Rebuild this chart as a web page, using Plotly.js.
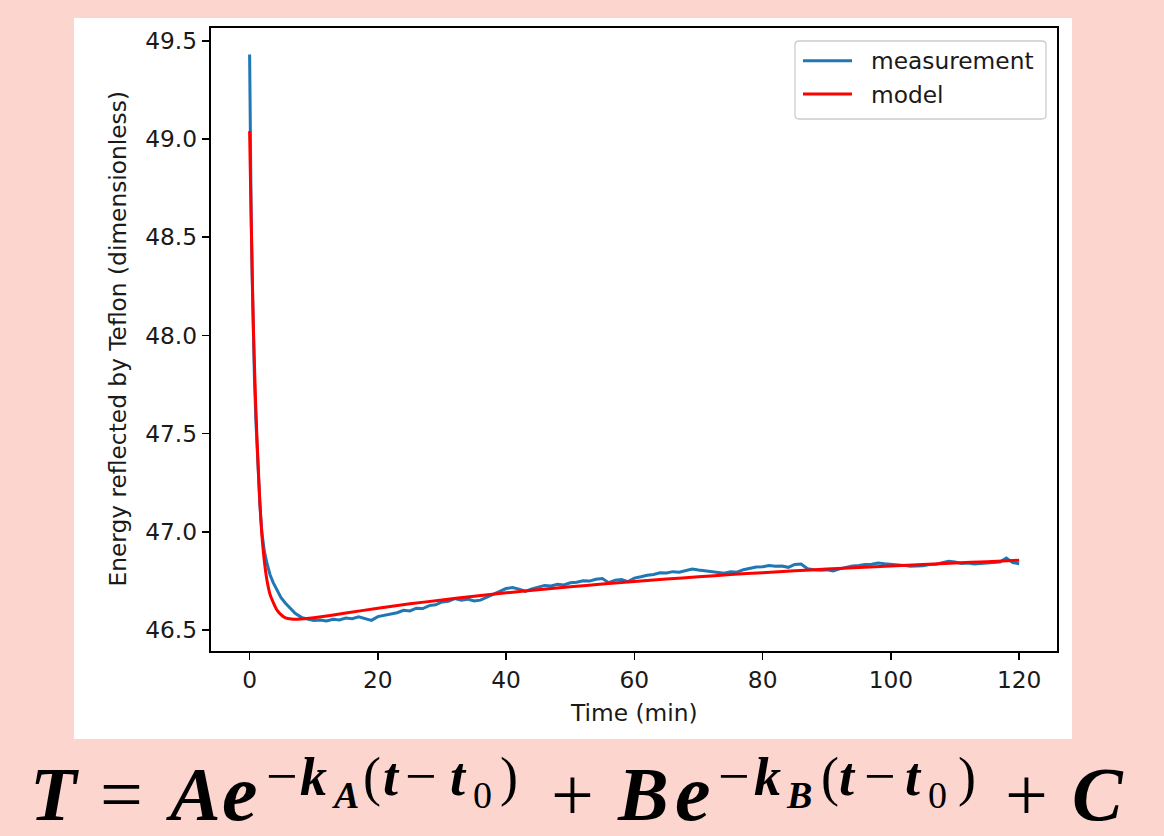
<!DOCTYPE html>
<html>
<head>
<meta charset="utf-8">
<script src="https://cdn.plot.ly/plotly-3.0.1.min.js"></script>
<style>
  html, body { margin: 0; padding: 0; background: #fcd5cf; }
  #wrap { position: relative; width: 1164px; height: 836px; overflow: hidden; }
  #chart { position: absolute; left: 0; top: 0; width: 1164px; height: 836px; }
  #formula { position: absolute; left: 0; top: 0; pointer-events: none; }
</style>
</head>
<body>
<div id="wrap">
  <div id="chart"></div>
  <svg id="formula" width="1164" height="836" xmlns="http://www.w3.org/2000/svg">
    <g font-family="Liberation Serif" font-weight="bold" fill="#000">
      <text x="30" y="820" font-size="76" font-style="italic">T</text>
      <text x="100" y="820" font-size="76" font-weight="normal">=</text>
      <text x="170" y="820" font-size="76" font-style="italic">A</text>
      <text x="222" y="820" font-size="80" font-style="italic">e</text>
      <text x="266" y="795" font-size="56" font-weight="normal">−</text>
      <text x="300" y="795" font-size="54" font-style="italic">k</text>
      <text x="334" y="808" font-size="38" font-style="italic">A</text>
      <text x="363" y="795" font-size="54" font-weight="normal">(</text>
      <text x="383" y="795" font-size="54" font-style="italic">t</text>
      <text x="405" y="795" font-size="56" font-weight="normal">−</text>
      <text x="450" y="795" font-size="54" font-style="italic">t</text>
      <text x="473" y="808" font-size="38" font-weight="normal">0</text>
      <text x="500" y="795" font-size="54" font-weight="normal">)</text>
      <text x="551" y="820" font-size="76" font-weight="normal">+</text>
      <text x="618" y="820" font-size="76" font-style="italic">B</text>
      <text x="675" y="820" font-size="80" font-style="italic">e</text>
      <text x="718" y="795" font-size="56" font-weight="normal">−</text>
      <text x="754" y="795" font-size="54" font-style="italic">k</text>
      <text x="787" y="808" font-size="38" font-style="italic">B</text>
      <text x="821" y="795" font-size="54" font-weight="normal">(</text>
      <text x="839" y="795" font-size="54" font-style="italic">t</text>
      <text x="864" y="795" font-size="56" font-weight="normal">−</text>
      <text x="905" y="795" font-size="54" font-style="italic">t</text>
      <text x="928" y="808" font-size="38" font-weight="normal">0</text>
      <text x="958" y="795" font-size="54" font-weight="normal">)</text>
      <text x="1005" y="820" font-size="76" font-weight="normal">+</text>
      <text x="1072" y="820" font-size="76" font-style="italic">C</text>
    </g>
  </svg>
</div>
<script>
// ---------------- data ----------------
const seriesNames = ["measurement", "model"];

const measT = [0, 0.1, 0.25, 0.4, 0.55, 0.75, 1, 1.3, 1.6, 1.9, 2.3, 2.7, 3.2, 3.7, 4.3, 4.9, 5.6, 6.3, 7.1, 8.2,
  9, 10, 11, 12, 13, 14, 15, 16, 17, 18, 19, 20, 21, 22, 23, 24, 25, 26, 27, 28, 29, 30,
  31, 32, 33, 34, 35, 36, 37, 38, 39, 40, 41, 42, 43, 44, 45, 46, 47, 48, 49, 50,
  51, 52, 53, 54, 55, 56, 57, 58, 59, 60, 61, 62, 63, 64, 65, 66, 67, 68, 69, 70,
  71, 72, 73, 74, 75, 76, 77, 78, 79, 80, 81, 82, 83, 84, 85, 86, 87, 88, 89, 90,
  91, 92, 93, 94, 95, 96, 97, 98, 99, 100, 101, 102, 103, 104, 105, 106, 107, 108, 109, 110,
  111, 112, 113, 114, 115, 116, 117, 118, 119, 120];

const measV = [49.43, 48.95, 48.6, 48.3, 48.03, 47.78, 47.55, 47.33, 47.14, 47.0, 46.9, 46.84, 46.78, 46.74, 46.70, 46.665, 46.636, 46.61, 46.585, 46.562,
  46.555, 46.548, 46.551, 46.546, 46.554, 46.551, 46.561, 46.557, 46.567, 46.559, 46.549, 46.568, 46.575, 46.582, 46.588, 46.600, 46.597, 46.611, 46.609, 46.624, 46.628, 46.643,
  46.646, 46.660, 46.652, 46.657, 46.648, 46.652, 46.668, 46.684, 46.696, 46.711, 46.716, 46.708, 46.697, 46.709, 46.718, 46.727, 46.724, 46.733, 46.729, 46.740,
  46.743, 46.751, 46.749, 46.758, 46.762, 46.741, 46.754, 46.757, 46.746, 46.764, 46.771, 46.779, 46.783, 46.791, 46.790, 46.797, 46.794, 46.803, 46.810, 46.805,
  46.801, 46.795, 46.793, 46.789, 46.796, 46.794, 46.807, 46.814, 46.821, 46.822, 46.828, 46.825, 46.826, 46.819, 46.834, 46.836, 46.812, 46.807, 46.804, 46.806,
  46.801, 46.811, 46.817, 46.826, 46.828, 46.834, 46.835, 46.841, 46.837, 46.835, 46.831, 46.829, 46.824, 46.826, 46.827, 46.833, 46.834, 46.843, 46.850, 46.846,
  46.839, 46.841, 46.836, 46.838, 46.840, 46.841, 46.846, 46.866, 46.843, 46.837];

const modelT = [0, 0.15, 0.3, 0.45, 0.6, 0.8, 1.0, 1.3, 1.6, 1.9, 2.3, 2.7, 3.2, 3.75, 4.3, 5.0, 5.6, 6.5, 7.5, 8.5,
  10, 15, 20, 25, 30, 35, 40, 45, 50, 55, 60, 65, 70, 75, 80, 85, 90, 95, 100, 105, 110, 115, 120];
const modelV = [49.04, 48.76, 48.50, 48.25, 48.03, 47.80, 47.60, 47.36, 47.15, 46.99, 46.85, 46.755, 46.68, 46.636, 46.60, 46.575, 46.562, 46.556, 46.555, 46.557,
  46.562, 46.586, 46.611, 46.633, 46.653, 46.672, 46.689, 46.705, 46.720, 46.734, 46.747, 46.759, 46.771, 46.782, 46.792, 46.801, 46.810, 46.818, 46.826, 46.834, 46.841, 46.848, 46.855];

const xTickVals = [0, 20, 40, 60, 80, 100, 120];
const yTickVals = [46.5, 47.0, 47.5, 48.0, 48.5, 49.0, 49.5];
const yTickText = ["46.5", "47.0", "47.5", "48.0", "48.5", "49.0", "49.5"];
const xTitle = "Time (min)";
const yTitle = "Energy reflected by Teflon (dimensionless)";

// ---------------- layout helpers (pixel -> paper) ----------------
const L = 211, R = 1057, T = 28, B = 651;
const px = x => (x - L) / (R - L);
const py = y => (B - y) / (B - T);

function roundRect(x0, y0, x1, y1, r) {
  return "M" + px(x0 + r) + "," + py(y0) +
    " L" + px(x1 - r) + "," + py(y0) +
    " Q" + px(x1) + "," + py(y0) + " " + px(x1) + "," + py(y0 + r) +
    " L" + px(x1) + "," + py(y1 - r) +
    " Q" + px(x1) + "," + py(y1) + " " + px(x1 - r) + "," + py(y1) +
    " L" + px(x0 + r) + "," + py(y1) +
    " Q" + px(x0) + "," + py(y1) + " " + px(x0) + "," + py(y1 - r) +
    " L" + px(x0) + "," + py(y0 + r) +
    " Q" + px(x0) + "," + py(y0) + " " + px(x0 + r) + "," + py(y0) + " Z";
}

const blue = "#1f77b4", red = "#ff0000";
const font = { family: "DejaVu Sans", size: 23.3, color: "#1a1a1a" };

const traces = [
  { x: measT, y: measV, type: "scatter", mode: "lines", name: seriesNames[0],
    line: { color: blue, width: 3 }, showlegend: false },
  { x: modelT, y: modelV, type: "scatter", mode: "lines", name: seriesNames[1],
    line: { color: red, width: 3, shape: "spline", smoothing: 0.6 }, showlegend: false }
];

const axisCommon = {
  showline: true, mirror: true, linecolor: "#000", linewidth: 1.7,
  ticks: "outside", ticklen: 7.6, tickwidth: 1.7, tickcolor: "#000",
  showgrid: false, zeroline: false, tickfont: font
};

const layout = {
  width: 1164, height: 836,
  paper_bgcolor: "#fcd5cf", plot_bgcolor: "#ffffff",
  margin: { l: L, r: 1164 - R, t: T, b: 836 - B, pad: 0 },
  font: font,
  xaxis: Object.assign({}, axisCommon, { range: [-6.02, 125.9], tickvals: xTickVals, ticktext: xTickVals.map(String) }),
  yaxis: Object.assign({}, axisCommon, { range: [46.393, 49.565], tickvals: yTickVals, ticktext: yTickText }),
  shapes: [
    { type: "rect", xref: "paper", yref: "paper", x0: px(74), x1: px(1072), y0: py(739), y1: py(18),
      fillcolor: "#ffffff", line: { width: 0 }, layer: "below" },
    { type: "path", xref: "paper", yref: "paper", path: roundRect(795, 41, 1046, 119, 4),
      fillcolor: "rgba(255,255,255,0.8)", line: { color: "#cccccc", width: 1.3 }, layer: "above" },
    { type: "line", xref: "paper", yref: "paper", x0: px(803), x1: px(852), y0: py(60.7), y1: py(60.7),
      line: { color: blue, width: 3 } },
    { type: "line", xref: "paper", yref: "paper", x0: px(803), x1: px(852), y0: py(94), y1: py(94),
      line: { color: red, width: 3 } }
  ],
  annotations: [
    { text: seriesNames[0], xref: "paper", yref: "paper", x: px(869), y: py(60.7), xanchor: "left", yanchor: "middle", showarrow: false, font: font },
    { text: seriesNames[1], xref: "paper", yref: "paper", x: px(869), y: py(94), xanchor: "left", yanchor: "middle", showarrow: false, font: font },
    { text: xTitle, xref: "paper", yref: "paper", x: px(634), y: py(712), xanchor: "center", yanchor: "middle", showarrow: false, font: font },
    { text: yTitle, xref: "paper", yref: "paper", x: px(117), y: py(339.5), xanchor: "center", yanchor: "middle", textangle: -90, showarrow: false, font: font }
  ]
};

Plotly.newPlot("chart", traces, layout, { displayModeBar: false, staticPlot: true });
</script>
</body>
</html>
